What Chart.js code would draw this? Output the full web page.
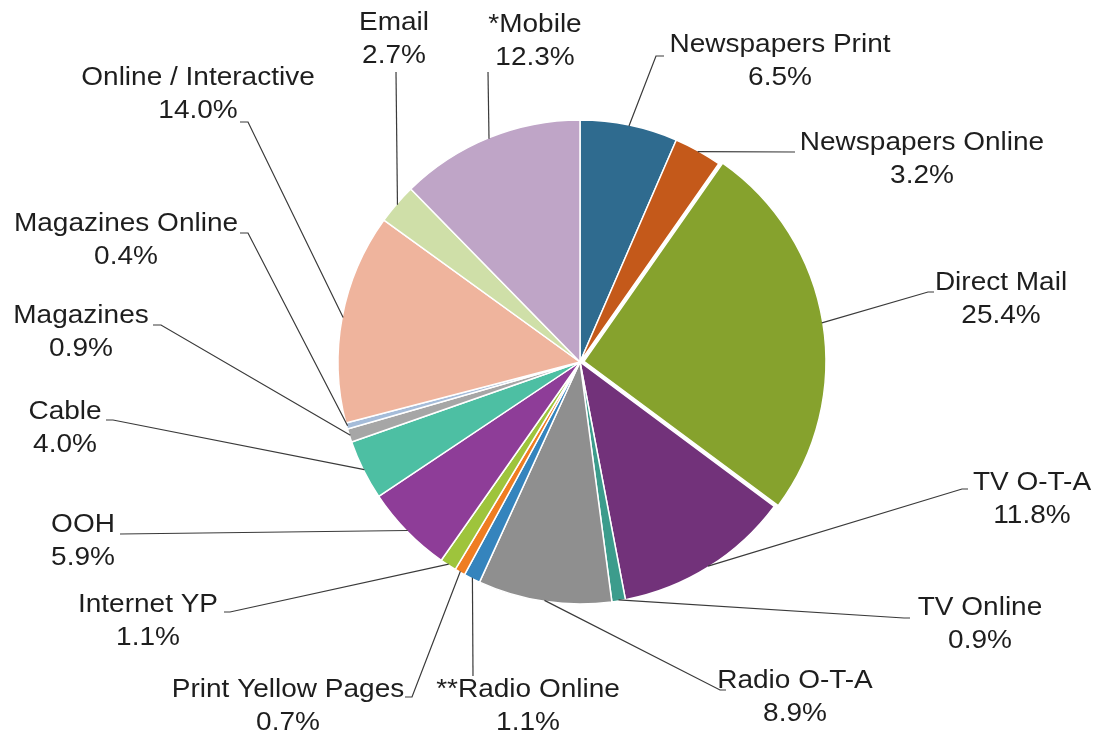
<!DOCTYPE html>
<html>
<head>
<meta charset="utf-8">
<title>Media share</title>
<script src="https://cdn.jsdelivr.net/npm/chart.js@4.4.1/dist/chart.umd.min.js"></script>
<style>
  html, body { margin: 0; padding: 0; background: #fff; }
  #wrap { width: 1096px; height: 739px; }
</style>
</head>
<body>
<div id="wrap"><canvas id="pie" width="1096" height="739"></canvas></div>
<script>
// channels, clockwise from 12 o'clock
const canais = [
  'Newspapers Print', 'Newspapers Online', 'Direct Mail', 'TV O-T-A', 'TV Online',
  'Radio O-T-A', '**Radio Online', 'Print Yellow Pages', 'Internet YP', 'OOH',
  'Cable', 'Magazines', 'Magazines Online', 'Online / Interactive', 'Email', '*Mobile'
];
const percentuais = [6.5, 3.2, 25.4, 11.8, 0.9, 8.9, 1.1, 0.7, 1.1, 5.9, 4.0, 0.9, 0.4, 14.0, 2.7, 12.3];

const cores = [
  '#2f6b8f', '#c4591a', '#86a22d', '#72327a', '#3c9c8c',
  '#8f8f8f', '#3584bd', '#ef7d22', '#9ec43c', '#8e3d98',
  '#4dbfa3', '#a6a6a6', '#a5bcd9', '#efb49d', '#cfdfa8', '#bfa5c7'
];

// where each label sits: [centre x, first line y, leader start x, leader start y, tick]
const rotulos = [
  [780, 45, 664, 56, -8],
  [922, 143, 795, 152, 0],
  [1001, 283, 934, 292, -6],
  [1032, 483, 968, 489, -6],
  [980, 608, 910, 618, -6],
  [795, 681, 726, 690, -6],
  [528, 690, 473, 676, 0],
  [288, 690, 405, 697, 7],
  [148, 605, 224, 612, 6],
  [83, 525, 120, 534, 0],
  [65, 412, 106, 420, 7],
  [81, 316, 153, 325, 8],
  [126, 224, 240, 233, 8],
  [198, 78, 240, 122, 8],
  [394, 23, 396, 72, 0],
  [535, 25, 488, 72, 0]
];

const rotulosPlugin = {
  id: 'rotulos',
  afterDatasetsDraw(chart) {
    const ctx = chart.ctx;
    const arcos = chart.getDatasetMeta(0).data;
    ctx.save();
    ctx.strokeStyle = '#3a3a3a';
    ctx.lineWidth = 1.2;
    arcos.forEach((arco, i) => {
      const p = arco.getProps(['x', 'y', 'startAngle', 'endAngle', 'outerRadius'], true);
      const meio = (p.startAngle + p.endAngle) / 2;
      const r = p.outerRadius - 1;
      const desl = (arco.options.offset || 0) / 4;
      const px = p.x + Math.cos(meio) * (r + desl);
      const py = p.y + Math.sin(meio) * (r + desl);
      const [cx, y1, ax, ay, tick] = rotulos[i];
      ctx.beginPath();
      ctx.moveTo(ax, ay);
      if (tick) ctx.lineTo(ax + tick, ay);
      ctx.lineTo(px, py);
      ctx.stroke();
    });
    ctx.fillStyle = '#1e1e1e';
    ctx.font = '25px "Liberation Sans", Arial, sans-serif';
    ctx.textAlign = 'center';
    ctx.textBaseline = 'middle';
    const escreve = (txt, x, y) => {
      ctx.save();
      ctx.translate(x, y);
      ctx.scale(1.12, 1);
      ctx.fillText(txt, 0, 0);
      ctx.restore();
    };
    canais.forEach((nome, i) => {
      const [cx, y1] = rotulos[i];
      escreve(nome, cx, y1);
      escreve(percentuais[i].toFixed(1) + '%', cx, y1 + 33);
    });
    ctx.restore();
  }
};

new Chart(document.getElementById('pie'), {
  type: 'pie',
  data: {
    labels: canais,
    datasets: [{
      data: percentuais,
      backgroundColor: cores,
      borderColor: '#ffffff',
      borderWidth: 1.5,
      offset: canais.map(n => n === 'Direct Mail' ? 16 : 0)
    }]
  },
  options: {
    responsive: false,
    animation: false,
    radius: 242,
    layout: { padding: { left: 64, right: 0, top: 0, bottom: 15 } },
    plugins: {
      legend: { display: false },
      tooltip: { enabled: false }
    }
  },
  plugins: [rotulosPlugin]
});
</script>
</body>
</html>
